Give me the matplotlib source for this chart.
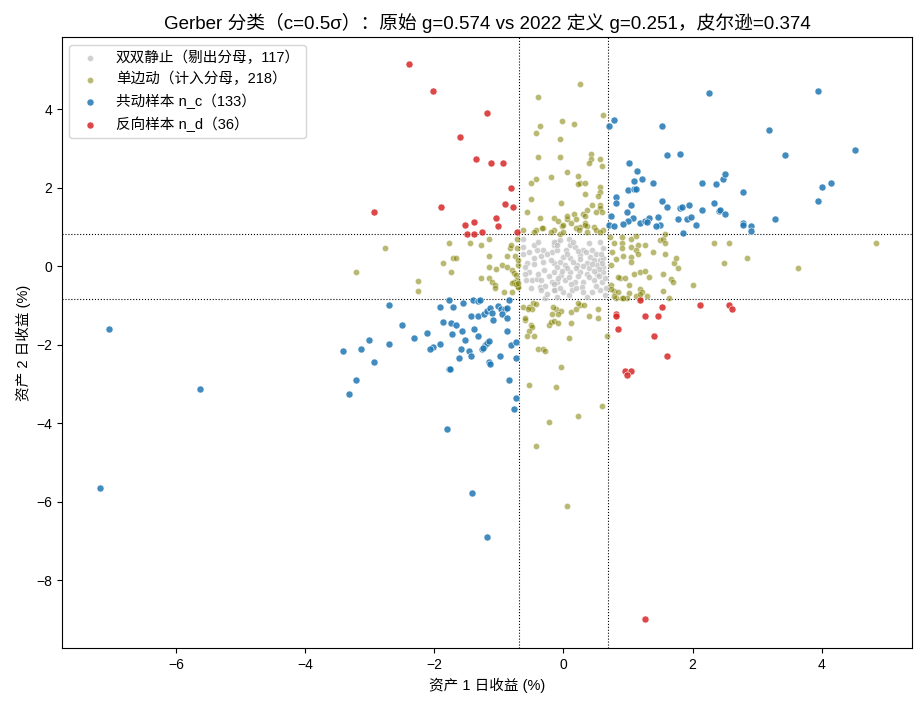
import numpy as np
import matplotlib
matplotlib.use("Agg")
import matplotlib.pyplot as plt

plt.rcParams['font.family'] = ['Liberation Sans', 'Noto Sans CJK SC', 'DejaVu Sans']
plt.rcParams['axes.unicode_minus'] = True

# 阈值 c = 0.5 sigma
hx, hy = 0.69, 0.825

# 双双静止
still_x = [-0.62, -0.62, -0.53, -0.41, -0.31, -0.18, -0.14, -0.10, -0.57, -0.45, -0.31, -0.15,
           -0.58, -0.49, -0.41, -0.34, -0.36, -0.28, -0.18, -0.13, -0.28, -0.59, -0.53,
           -0.15, -0.05, 0.08, 0.10, 0.04, -0.10, 0.31, 0.44, 0.56, 0.18, 0.00, 0.10, 0.26,
           0.41, 0.47, 0.57, 0.62, 0.52, 0.62, 0.36, 0.21, 0.03, -0.10, -0.15, -0.03, 0.10,
           0.26, 0.36, 0.52, 0.62, -0.10, 0.03, 0.18, 0.31, 0.47, 0.59, -0.15, 0.00, 0.13,
           0.28, 0.44, 0.57, 0.65, 0.36, 0.08, -0.10,
           -0.45, -0.35, -0.25, -0.20, -0.05, 0.05, 0.15, 0.20, 0.30, 0.40, 0.45, 0.55, 0.60,
           0.50, 0.35, 0.22, -0.30, -0.40, -0.22, -0.08, 0.08, 0.22, 0.40, 0.55, 0.65, -0.50,
           -0.25, 0.20, 0.50, 0.30, -0.62, -0.45, -0.10, 0.15, 0.40, 0.62, 0.05, -0.15, -0.05,
           0.12, -0.35, -0.60, 0.66, 0.25, -0.02, 0.48, 0.58, -0.40]
still_y = [0.68, 0.32, 0.37, 0.41, 0.41, 0.37, 0.53, 0.62, 0.07, 0.05, 0.11, 0.07,
           -0.36, -0.36, -0.32, -0.36, -0.53, -0.51, -0.40, -0.61, -0.80, -0.02, -0.14,
           0.62, 0.66, 0.70, 0.53, 0.41, 0.41, 0.41, 0.41, 0.62, 0.49, 0.24, 0.20, 0.28,
           0.24, 0.15, 0.15, 0.20, 0.03, -0.02, 0.07, 0.03, 0.03, -0.02, -0.14, -0.23, -0.14,
           -0.14, -0.19, -0.19, -0.14, -0.40, -0.36, -0.40, -0.40, -0.36, -0.40, -0.61, -0.65,
           -0.61, -0.53, -0.65, -0.61, -0.74, -0.78, -0.74, -0.78,
           0.55, 0.25, 0.30, 0.15, 0.10, -0.05, 0.10, -0.05, 0.00, -0.05, 0.05, -0.08, 0.08,
           0.30, 0.35, 0.38, -0.10, -0.20, -0.25, -0.30, -0.28, -0.25, -0.28, -0.25, -0.30,
           -0.55, -0.70, -0.55, -0.50, -0.65, 0.50, 0.20, 0.55, 0.62, 0.60, 0.45, 0.30, -0.45,
           -0.55, -0.45, -0.60, -0.20, -0.55, 0.18, -0.12, -0.12, 0.32, 0.62]

# 单边动
single_x = [
    # 上方
    0.26, -0.39, 0.62, -0.02, -0.36, 0.17, -0.43, -0.05, -0.40, -0.06, 0.42, 0.43, 0.39,
    0.57, 0.60, 0.06, -0.20, -0.51, -0.43, 0.23, 0.25, 0.33, 0.22, 0.57, 0.57, 0.53, 0.33,
    -0.50, -0.03, 0.56, 0.56, 0.50, 0.60, 0.37, 0.31, 0.34, 0.16, -0.57, -0.37, -0.14,
    -0.09, 0.05, 0.11, 0.19, 0.34, 0.36, 0.26, 0.19, -0.02, -0.14, -0.32, -0.43, -0.63,
    0.06, 0.00, 0.34, 0.47, 0.24, 0.36, 0.50, 0.62, 0.56, -0.06, -0.19, 0.00, -0.33, -0.45,
    0.45,
    # 右侧
    0.78, 0.90, 0.91, 0.90, 1.04, 1.13, 1.15, 1.26, 1.04, 1.13, 1.16, 1.05, 1.05, 0.93,
    0.82, 0.76, 0.74, 1.38, 1.50, 1.54, 1.57, 1.58, 1.58, 1.72, 1.75, 1.77, 2.33, 2.57,
    2.48, 2.84, 1.10, 1.18, 1.27, 1.33, 0.88, 0.96, 1.02, 0.74, 1.54, 1.67, 1.69, 2.01,
    0.78, 0.85, 1.02, 1.18, 1.21, 1.30, 1.54, 1.63, 0.91, 0.98, 0.74, 0.81, 1.18, 0.79,
    0.93, 1.12, 1.19, 3.64, 4.84, 0.72, 0.85,
    # 左侧
    -1.78, -1.45, -1.27, -1.16, -1.86, -1.71, -1.66, -1.74, -2.26, -2.25, -1.15, -1.16,
    -1.05, -1.28, -1.16, -1.11, -1.06, -1.06, -0.95, -0.88, -0.88, -0.75, -0.83, -0.72,
    -0.92, -0.79, -2.76, -3.21, -0.80, -0.77, -0.74, -0.72, -0.77, -0.72, -0.71, -0.80,
    -0.72, -0.81, -0.71, -0.70, -0.70, -0.74, -0.70,
    # 下方
    -0.47, -0.43, -0.54, -0.48, -0.11, -0.03, -0.17, -0.09, 0.11, 0.19, 0.25, 0.23, 0.32,
    0.39, 0.53, 0.53, -0.59, -0.51, -0.48, -0.53, -0.56, -0.45, -0.23, -0.20, -0.14, -0.09,
    0.11, 0.09, -0.39, -0.32, -0.28, 0.68, -0.03, -0.53, -0.12, 0.60, 0.22, -0.22, -0.42,
    0.06, -0.62, -0.55, -0.16, -0.60]
single_y = [
    4.65, 4.30, 3.86, 3.69, 3.58, 3.61, 3.38, 3.23, 2.79, 2.79, 2.85, 2.72, 2.62,
    2.74, 2.54, 2.41, 2.26, 2.13, 2.21, 2.29, 2.11, 2.13, 2.08, 2.01, 1.90, 1.78, 1.83,
    1.72, 1.62, 1.57, 1.47, 1.39, 1.39, 1.44, 1.34, 1.27, 1.34, 1.37, 1.22, 1.22,
    1.14, 1.19, 1.11, 1.19, 1.11, 1.01, 0.99, 0.97, 1.01, 0.93, 0.97, 0.92, 0.91,
    1.29, 1.04, 1.06, 1.00, 0.91, 0.86, 0.91, 0.93, 0.86, 0.83, 0.86, 0.86, 0.96, 0.86,
    1.55,
    0.58, 0.73, 0.58, 0.47, 0.70, 0.77, 0.55, 0.55, 0.49, 0.42, 0.30, 0.24, 0.11, 0.27,
    0.19, 0.35, 0.04, 0.35, 0.66, 0.70, 0.59, 0.81, 0.32, 0.09, 0.20, -0.04, 0.60, 0.58,
    0.07, 0.20, -0.19, -0.15, -0.13, -0.27, -0.29, -0.31, -0.47, -0.47, -0.21, -0.32, -0.40, -0.47,
    -0.63, -0.66, -0.68, -0.59, -0.67, -0.76, -0.64, -0.81, -0.80, -0.81, -0.59, -0.81, -0.81, -0.76,
    -0.80, -0.76, -0.71, -0.06, 0.58, 0.75, -0.27,
    0.60, 0.60, 0.55, 0.68, 0.09, 0.21, 0.22, -0.16, -0.39, -0.64, 0.25, -0.01,
    -0.08, -0.29, -0.31, -0.40, -0.48, -0.56, 0.02, -0.02, 0.25, 0.25, 0.45, 0.45,
    -0.66, -0.66, 0.45, -0.16, -0.10, -0.17, -0.23, -0.36, -0.40, -0.49, -0.53, -0.44,
    0.68, 0.53, 0.02, 0.15, -0.54, -0.46, -0.44,
    -0.95, -0.97, -1.05, -1.08, -1.10, -1.15, -1.23, -1.21, -1.18, -1.10, -1.00, -0.95, -1.00,
    -1.26, -1.08, -1.33, -1.38, -1.49, -1.56, -1.66, -1.79, -1.79, -1.51, -1.43, -1.41, -1.46,
    -1.46, -1.82, -2.12, -2.10, -2.17, -1.77, -2.58, -3.04, -3.09, -3.57, -3.83, -3.96, -4.59,
    -6.12, -1.04, -1.10, -1.04, -1.31]

# 共动样本
conc_x = [0.70, 0.79, 1.02, 1.14, 1.10, 1.00, 1.09, 1.12, 0.82, 0.82, 1.04, 0.99, 0.74,
          1.07, 1.00, 0.93, 0.70, 0.79, 1.19, 2.26, 1.52, 3.18, 1.61, 1.81, 1.22, 1.38,
          2.14, 2.37, 2.47, 2.50, 2.78, 1.53, 1.61, 1.81, 1.83, 1.95, 2.14, 2.34, 2.41,
          2.43, 2.51, 1.26, 1.33, 1.47, 1.50, 1.44, 1.78, 1.91, 1.97, 2.05, 1.86, 2.78,
          2.78, 2.90, 2.90, 3.27, 3.94, 4.51, 3.43, 4.15, 4.00, 3.94, 1.29,
          -2.71, -1.77, -1.91, -1.71, -1.55, -1.40, -1.33, -1.29, -0.85, -1.43, -1.32, -1.23,
          -1.18, -1.13, -1.10, -1.01, -0.97, -0.91, -0.88, -0.95, -0.87, -1.09, -2.50, -1.86,
          -1.74, -1.66, -1.57, -1.38, -0.87, -1.72, -2.12, -2.31, -2.70, -1.52, -1.32, -1.91,
          -2.02, -2.06, -1.58, -1.46, -1.43, -1.62, -1.26, -1.21, -1.18, -1.15, -0.81, -0.73,
          -0.98, -0.73, -1.15, -1.13, -1.78, -1.75, -0.84, -0.73, -0.76, -1.80, -7.04, -5.63,
          -7.18, -3.41, -3.13, -3.02, -2.93, -3.22, -3.32, -1.41, -1.19, -1.24]
conc_y = [3.58, 3.72, 2.64, 2.42, 2.17, 1.93, 1.96, 1.96, 1.75, 1.60, 1.55, 1.39, 1.29,
          1.22, 1.14, 1.07, 1.04, 1.01, 1.10, 4.40, 3.58, 3.46, 2.82, 2.85, 2.21, 2.11,
          2.11, 2.08, 2.21, 2.36, 1.88, 1.65, 1.50, 1.48, 1.50, 1.57, 1.44, 1.62, 1.40,
          1.43, 1.34, 1.15, 1.22, 1.24, 1.06, 1.01, 1.19, 1.19, 1.24, 1.06, 0.85, 1.09,
          1.04, 1.01, 0.90, 1.19, 4.45, 2.97, 2.82, 2.11, 2.01, 1.67, 1.13,
          -0.98, -0.87, -1.05, -1.03, -0.95, -0.86, -0.90, -0.86, -0.86, -1.26, -1.28, -1.23,
          -1.15, -1.07, -1.20, -1.02, -1.09, -1.08, -1.07, -1.23, -1.33, -1.38, -1.51, -1.43,
          -1.46, -1.51, -1.64, -1.59, -1.66, -1.74, -1.71, -1.84, -1.99, -1.87, -1.79, -1.99,
          -2.05, -2.12, -2.12, -2.15, -2.30, -2.35, -2.12, -2.02, -1.97, -1.92, -2.02, -1.94,
          -2.28, -2.33, -2.45, -2.50, -2.61, -2.63, -2.91, -3.37, -3.65, -4.16, -1.61, -3.14,
          -5.64, -2.15, -2.12, -1.89, -2.45, -2.91, -3.27, -5.79, -6.91, -2.08]

# 反向样本
disc_x = [-2.40, -2.02, -1.18, -1.60, -1.35, -1.12, -0.93, -0.82, -1.89, -0.91, -0.78,
          -1.05, -1.38, -1.52, -1.02, -1.49, -1.38, -1.26, -0.72, -2.93,
          1.18, 0.82, 0.82, 1.26, 1.47, 1.53, 2.11, 2.57, 2.61, 0.84, 1.40, 1.60, 0.96,
          1.04, 0.99, 1.27]
disc_y = [5.14, 4.45, 3.89, 3.30, 2.72, 2.62, 2.62, 1.98, 1.50, 1.58, 1.50,
          1.22, 1.12, 1.04, 1.01, 0.82, 0.83, 0.86, 0.86, 1.38,
          -0.87, -1.21, -1.26, -1.27, -1.27, -1.04, -1.00, -0.99, -1.09, -1.59, -1.79, -2.30,
          -2.68, -2.66, -2.78, -8.98]

fig = plt.figure(figsize=(9.24, 7.04), dpi=100)
ax = fig.add_axes([0.067, 0.0795, 0.92, 0.8675])

ax.scatter(still_x, still_y, s=20, color='#bdbdbd', alpha=0.7, edgecolors='white',
           linewidths=0.5, label=f'双双静止（剔出分母，{len(still_x)}）', zorder=2)
ax.scatter(single_x, single_y, s=20, color='olive', alpha=0.55, edgecolors='white',
           linewidths=0.5, label=f'单边动（计入分母，{len(single_x)}）', zorder=2)
ax.scatter(conc_x, conc_y, s=26, color='tab:blue', alpha=0.85, edgecolors='white',
           linewidths=0.5, label=f'共动样本 n_c（{len(conc_x)}）', zorder=3)
ax.scatter(disc_x, disc_y, s=26, color='tab:red', alpha=0.85, edgecolors='white',
           linewidths=0.5, label=f'反向样本 n_d（{len(disc_x)}）', zorder=3)

for v in (-hx, hx):
    ax.axvline(v, color='black', linestyle=':', linewidth=0.8, zorder=1)
for v in (-hy, hy):
    ax.axhline(v, color='black', linestyle=':', linewidth=0.8, zorder=1)

ax.set_xlim(-7.77, 5.40)
ax.set_ylim(-9.73, 5.83)
ax.set_title('Gerber 分类（c=0.5σ）：原始 g=0.574 vs 2022 定义 g=0.251，皮尔逊=0.374', fontsize=13.5)
ax.set_xlabel('资产 1 日收益 (%)', fontsize=10.5)
ax.set_ylabel('资产 2 日收益 (%)', fontsize=10.5)
ax.legend(loc='upper left', fontsize=10.5)

fig.savefig('out.png', dpi=100)
